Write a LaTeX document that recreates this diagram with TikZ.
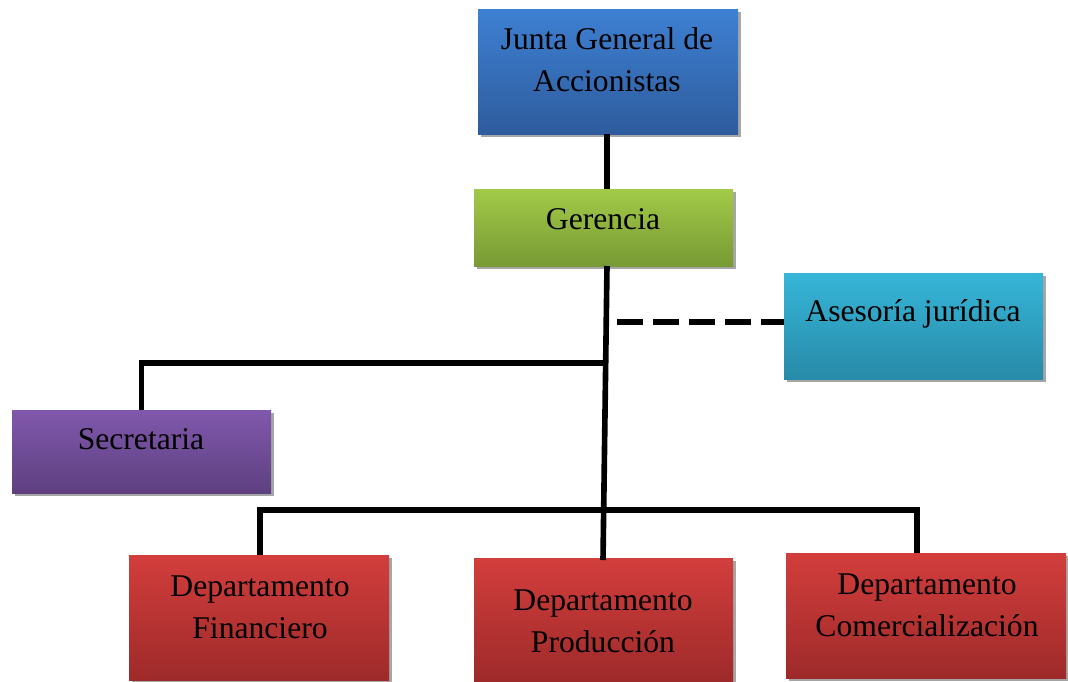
\documentclass[tikz,border=0pt]{standalone}
\usepackage{fontspec}
\setmainfont{Liberation Serif}
\usetikzlibrary{fit,shadows}
\definecolor{blueT}{RGB}{62,128,210}
\definecolor{blueB}{RGB}{46,92,158}
\definecolor{greenT}{RGB}{162,202,72}
\definecolor{greenB}{RGB}{120,154,52}
\definecolor{cyanT}{RGB}{54,182,216}
\definecolor{cyanB}{RGB}{40,138,168}
\definecolor{purpT}{RGB}{128,88,172}
\definecolor{purpB}{RGB}{94,64,128}
\definecolor{redT}{RGB}{210,62,60}
\definecolor{redB}{RGB}{158,42,42}
\tikzset{
  box/.style={rectangle, inner sep=0pt, draw=none,
    drop shadow={shadow xshift=1.8pt, shadow yshift=-1.8pt, fill=black!35, opacity=1}},
  lbl/.style={align=center, inner sep=0pt, font=\fontsize{18}{24}\selectfont},
  conn/.style={line width=3.2pt, black},
  dconn/.style={line width=3.2pt, black, dash pattern=on 15pt off 5.5pt}
}
\begin{document}
\begin{tikzpicture}[x=0.02cm, y=-0.02cm]
\useasboundingbox (0,0) rectangle (1068,681);
% boxes
\node[box, top color=blueT, bottom color=blueB, fit={(478,9) (738,134)}] (jun) {};
\node[box, top color=greenT, bottom color=greenB, fit={(474,189) (733,266)}] (ger) {};
\node[box, top color=cyanT, bottom color=cyanB, fit={(784,273) (1043,379)}] (ase) {};
\node[box, top color=purpT, bottom color=purpB, fit={(12,410) (271,493)}] (sec) {};
\node[box, top color=redT, bottom color=redB, fit={(129,555) (389,680)}] (fin) {};
\node[box, top color=redT, bottom color=redB, fit={(474,558) (733,681)}] (pro) {};
\node[box, top color=redT, bottom color=redB, fit={(786,553) (1066,678)}] (com) {};
% labels
\node[lbl] (tjun) at (607,60) {Junta General de\\Accionistas};
\node[lbl] (tger) at (603,219) {Gerencia};
\node[lbl] (tase) at (913,314) {Asesoría jurídica};
\node[lbl] (tsec) at (141,439) {Secretaria};
\node[lbl] (tfin) at (260,607) {Departamento\\Financiero};
\node[lbl] (tpro) at (603,621) {Departamento\\Producción};
\node[lbl] (tcom) at (927,605) {Departamento\\Comercialización};
% junction coordinates
\coordinate (g1) at (607,266);
\coordinate (p1) at (603,560);
\coordinate (j1) at (607,363);
\coordinate (d1) at (617,322);
\coordinate (b1) at (260,510);
\coordinate (b2) at (917,510);
% connectors
\draw[conn] (jun.south -| g1) -- (ger.north -| g1);
\draw[conn] (g1) -- (p1);
\draw[conn] (j1) -| (sec.north);
\draw[dconn] (d1) -- (ase.west |- d1);
\draw[conn] (b1 |- fin.north) -- (b1) -- (b2) -- (b2 |- com.north);
\end{tikzpicture}
\end{document}
